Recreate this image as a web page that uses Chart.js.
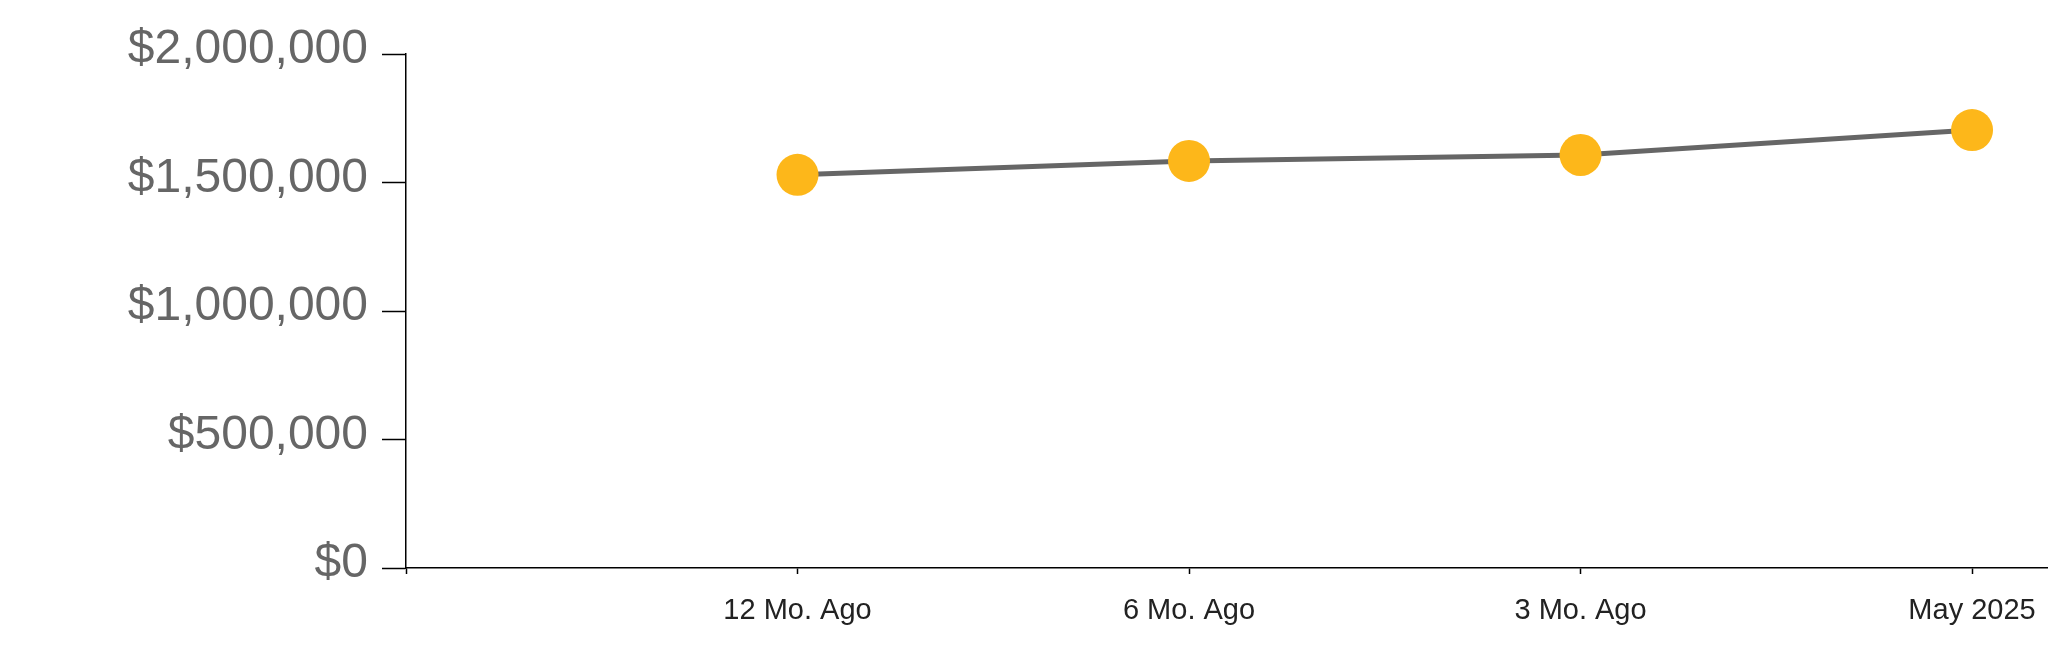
<!DOCTYPE html>
<html>
<head>
<meta charset="utf-8">
<script src="https://cdn.jsdelivr.net/npm/chart.js@4/dist/chart.umd.min.js"></script>
<style>
	html, body {margin: 0; padding: 0; background: #fff;}
	#wrap {width: 2048px; height: 663px; position: relative;}
</style>
</head>
<body>
<div id="wrap"><canvas id="valueChart"></canvas></div>
<script>
// DATA
const periodLabels = ["", "12 Mo. Ago", "6 Mo. Ago", "3 Mo. Ago", "May 2025"];
const medianValues = [null, 1530000, 1584000, 1607000, 1704000];
const yTickValues = [0, 500000, 1000000, 1500000, 2000000];

const points = medianValues
	.map((v, i) => ({x: i, y: v}))
	.filter(p => p.y !== null);

const fmtMoney = v => "$" + Number(v).toLocaleString("en-US");

const ctx = document.getElementById("valueChart");
new Chart(ctx, {
	type: "line",
	data: {
		datasets: [{
			label: "Value",
			data: points,
			borderColor: "#666666",
			borderWidth: 5,
			pointBackgroundColor: "#FDB71A",
			pointBorderColor: "#FDB71A",
			pointBorderWidth: 0,
			pointRadius: 21,
			pointHoverRadius: 21,
			tension: 0,
			fill: false
		}]
	},
	options: {
		responsive: true,
		maintainAspectRatio: false,
		animation: false,
		layout: {autoPadding: false, padding: {top: 54, right: 0, bottom: 0, left: 0}},
		plugins: {
			legend: {display: false},
			tooltip: {enabled: false}
		},
		scales: {
			x: {
				type: "linear",
				min: 0,
				max: 4.194,
				afterFit: scale => {
					scale.height = 95;
					scale.paddingLeft = 0;
					scale.paddingRight = 0;
				},
				afterBuildTicks: scale => {
					scale.ticks = periodLabels.map((_, i) => ({value: i}));
				},
				ticks: {
					autoSkip: false,
					maxRotation: 0,
					padding: 20,
					color: "#222222",
					font: {family: "'Liberation Sans', Arial, sans-serif", size: 29},
					callback: v => periodLabels[v] ?? ""
				},
				grid: {
					drawOnChartArea: false,
					tickLength: 6,
					tickColor: "#000000",
					tickWidth: 1.5
				},
				border: {color: "#000000", width: 1.5}
			},
			y: {
				min: 0,
				max: 2000000,
				afterFit: scale => { scale.width = 406; },
				afterBuildTicks: scale => {
					scale.ticks = yTickValues.map(v => ({value: v}));
				},
				ticks: {
					padding: 14,
					labelOffset: -4,
					color: "#666666",
					font: {family: "'Liberation Sans', Arial, sans-serif", size: 48},
					callback: v => fmtMoney(v)
				},
				grid: {
					drawOnChartArea: false,
					tickLength: 24,
					tickColor: "#000000",
					tickWidth: 1.5
				},
				border: {color: "#000000", width: 1.5}
			}
		}
	}
});
</script>
</body>
</html>
